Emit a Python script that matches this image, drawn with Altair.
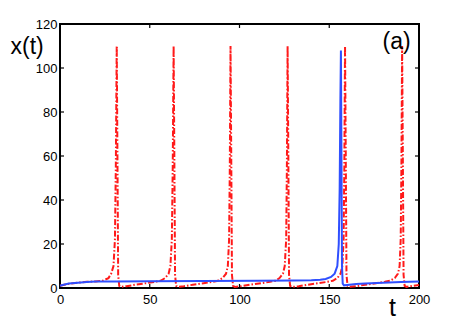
import altair as alt
import pandas as pd

# solid blue series
blue_t = [0, 2, 5, 10, 15, 20, 30, 50, 80, 110, 130, 140, 145, 148, 151, 153,
          154.5, 155.3, 155.8, 156.2, 156.5, 156.8, 157.1, 157.5, 158.2, 160,
          165, 170, 180, 190, 200]
blue_x = [1.0, 1.5, 2.0, 2.4, 2.7, 2.9, 3.0, 3.1, 3.2, 3.3, 3.4, 3.5, 3.7, 4.1, 5.0, 6.5,
          10, 20, 45, 85, 108, 60, 10, 2.0, 1.2, 1.4,
          1.8, 2.1, 2.4, 2.7, 2.9]

# dash-dot red series
red_t = [0, 3, 6, 10, 15, 20, 24, 27, 28.5, 29.8, 30.6, 31.1, 31.6, 32.0, 32.4, 33.0, 34,
         37, 42, 48, 53, 56, 58.5, 60.5, 61.5, 62.3, 62.8, 63.3, 63.7, 64.1, 64.7, 65.7,
         69, 74, 80, 85, 88, 90.5, 92.5, 93.5, 94.2, 94.6, 95.0, 95.4, 95.8, 96.4, 97.4,
         101, 106, 112, 117, 120, 122.3, 124.2, 125.2, 126.0, 126.4, 126.8, 127.2, 127.6, 128.2, 129.2,
         133, 138, 144, 149, 152, 154.5, 156.3, 157.3, 158.0, 158.4, 158.8, 159.2, 159.6, 160.2, 161.2,
         165, 170, 176, 181, 184, 186.5, 188.3, 189.2, 189.8, 190.2, 190.6, 191.0, 191.4, 192.0, 193,
         196, 200]
red_x = [1.0, 1.6, 2.0, 2.4, 2.8, 3.0, 3.4, 4.5, 6.5, 10, 22, 55, 110, 60, 6, 1.0, 0.5,
         0.8, 1.5, 2.2, 2.8, 3.3, 4.5, 6.5, 10, 22, 55, 110, 60, 6, 1.0, 0.5,
         0.8, 1.5, 2.2, 2.8, 3.3, 4.5, 6.5, 10, 22, 55, 110, 60, 6, 1.0, 0.5,
         0.8, 1.5, 2.2, 2.8, 3.3, 4.5, 6.5, 10, 22, 55, 110, 60, 6, 1.0, 0.5,
         0.8, 1.5, 2.2, 2.8, 3.3, 4.5, 6.5, 10, 22, 55, 110, 60, 6, 1.0, 0.5,
         0.8, 1.5, 2.2, 2.8, 3.3, 4.5, 6.5, 10, 22, 55, 110, 60, 6, 1.0, 0.5,
         0.9, 1.4]

x_ticks = [0, 50, 100, 150, 200]
y_ticks = [0, 20, 40, 60, 80, 100, 120]
x_inner = [50, 100, 150]
y_inner = [20, 40, 60, 80, 100]

W, H = 359, 264
FONT = "Liberation Sans"

blue_df = pd.DataFrame({"t": blue_t, "x": blue_x})
red_df = pd.DataFrame({"t": red_t, "x": red_x})

xs = alt.Scale(domain=[0, 200], nice=False)
ys = alt.Scale(domain=[0, 120], nice=False)

x_axis = alt.Axis(values=x_ticks, ticks=False, domain=False, grid=False,
                  labelFont=FONT, labelFontSize=13, labelColor="black", labelPadding=5,
                  labelFlush=False,
                  title="t", titleFont=FONT, titleFontSize=25, titleFontWeight="normal",
                  titleColor="black", titleX=332, titleY=27, titleAlign="center",
                  titleBaseline="alphabetic")
y_axis = alt.Axis(values=y_ticks, ticks=False, domain=False, grid=False,
                  labelFont=FONT, labelFontSize=13, labelColor="black", labelPadding=3,
                  labelFlush=False,
                  title="x(t)", titleFont=FONT, titleFontSize=23, titleFontWeight="normal",
                  titleColor="black", titleAngle=0, titleX=-50, titleY=29, titleAlign="left",
                  titleBaseline="alphabetic")

red = alt.Chart(red_df).mark_line(color="#ff1a1a", strokeWidth=2,
                                  strokeDash=[6, 2, 1.5, 2]).encode(
    x=alt.X("t:Q", scale=xs, axis=x_axis),
    y=alt.Y("x:Q", scale=ys, axis=y_axis),
    order="t:Q",
)
blue = alt.Chart(blue_df).mark_line(color="#2f4fff", strokeWidth=2).encode(
    x=alt.X("t:Q", scale=xs),
    y=alt.Y("x:Q", scale=ys),
    order="t:Q",
)

xt = pd.DataFrame({"t": x_inner})
yt = pd.DataFrame({"v": y_inner})
tick_bottom = alt.Chart(xt).mark_rule(color="black", strokeWidth=1.2).encode(
    x=alt.X("t:Q", scale=xs), y=alt.value(H), y2=alt.value(H - 4))
tick_top = alt.Chart(xt).mark_rule(color="black", strokeWidth=1.2).encode(
    x=alt.X("t:Q", scale=xs), y=alt.value(0), y2=alt.value(4))
tick_left = alt.Chart(yt).mark_rule(color="black", strokeWidth=1.2).encode(
    y=alt.Y("v:Q", scale=ys), x=alt.value(0), x2=alt.value(4))
tick_right = alt.Chart(yt).mark_rule(color="black", strokeWidth=1.2).encode(
    y=alt.Y("v:Q", scale=ys), x=alt.value(W), x2=alt.value(W - 4))

label_df = pd.DataFrame({"t": [187.5], "x": [112], "txt": ["(a)"]})
label = alt.Chart(label_df).mark_text(font=FONT, fontSize=23, color="black",
                                      baseline="middle", align="center").encode(
    x=alt.X("t:Q", scale=xs), y=alt.Y("x:Q", scale=ys), text="txt:N")

chart = alt.layer(red, blue, tick_bottom, tick_top, tick_left, tick_right, label).properties(
    width=W, height=H,
    autosize=alt.AutoSizeParams(type="none"),
    padding={"left": 52, "top": 16, "right": 20, "bottom": 40},
    background="white",
).configure_view(stroke="black", strokeWidth=2)

chart.save("out.html", embed_options={"renderer": "svg", "actions": False})
